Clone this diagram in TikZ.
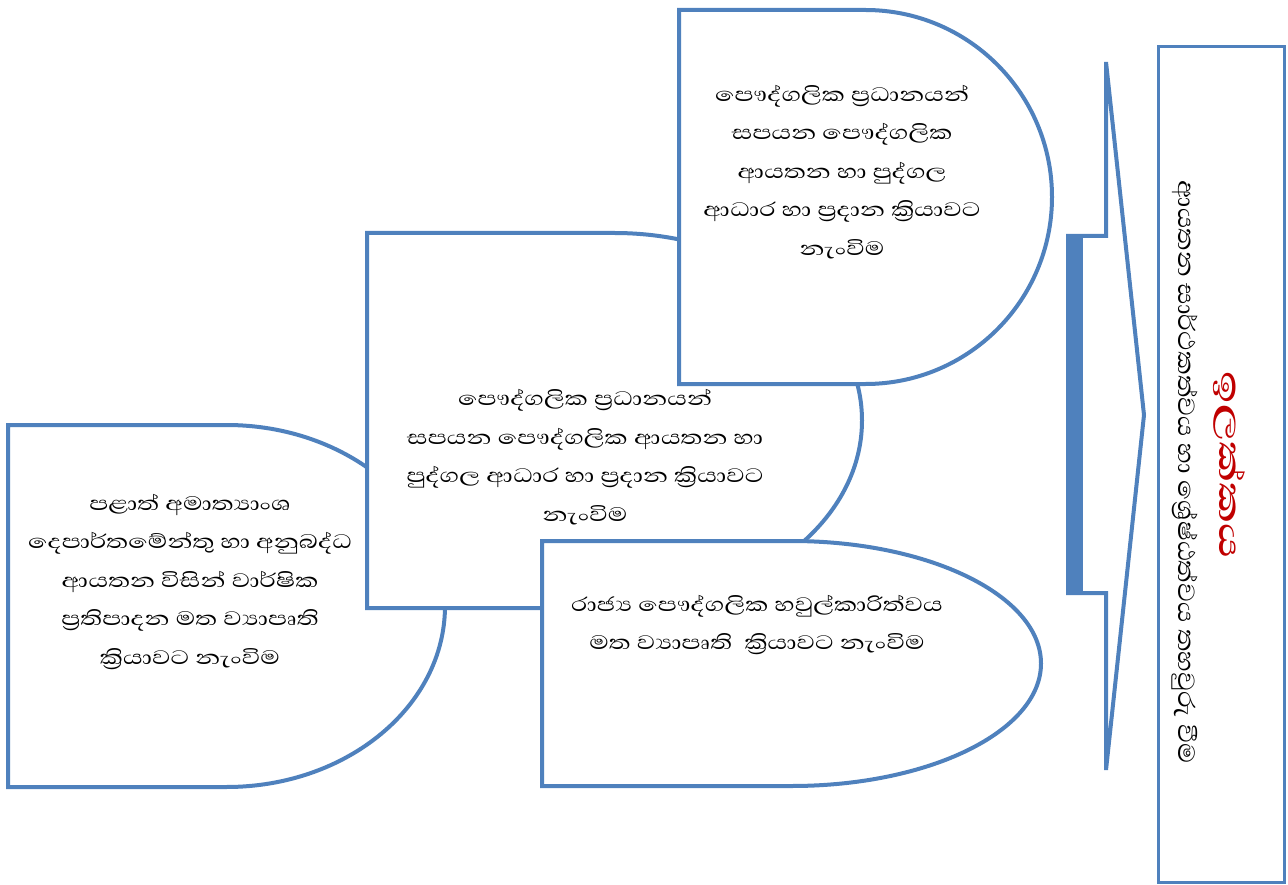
\documentclass[tikz,border=0pt]{standalone}
\usepackage{fontspec}
\usepackage{xcolor}
\usetikzlibrary{positioning}
\newfontfamily\sinfont[Script=Sinhala,FakeStretch=1.3]{Abhaya Libre}
\newfontfamily\sinvfont[Script=Sinhala,FakeStretch=1.12]{Abhaya Libre}
\newfontfamily\sinwfont[Script=Sinhala,FakeStretch=1.45]{Abhaya Libre}
\definecolor{shapeblue}{HTML}{4F81BD}
\definecolor{goalred}{HTML}{C00000}

% delay shape: left, top, width, height (pixels, y downwards)
\newcommand{\delaybox}[4]{%
  \draw[delay] (#1,-#2) -- ++(#3/2,0)
    arc[start angle=90,end angle=-90,x radius=#3/2,y radius=#4/2]
    -- ++(-#3/2,0) -- cycle;}

\begin{document}
\begin{tikzpicture}[x=1pt,y=1pt,
    delay/.style={draw=shapeblue, line width=4pt, fill=white},
    stext/.style={align=center, font=\sinfont\fontsize{25}{38.5}\selectfont},
    vtext/.style={rotate=-90, font=\sinvfont\fontsize{30}{34}\selectfont}]
  \useasboundingbox (0,0) rectangle (1288,-885);

  % the four stages
  \delaybox{8}{425}{437}{362}
  \delaybox{367}{233}{495}{375}
  \delaybox{679}{10}{373}{374}
  \delaybox{542}{541}{499}{245}

  \node[stext] (lefttxt) at (190,-582) {පළාත් අමාත්‍යාංශ\\දෙපාර්තමේන්තු හා අනුබද්ධ\\ආයතන විසින් වාර්ෂික\\ප්‍රතිපාදන මත ව්‍යාපෘති\\ක්‍රියාවට නැංවිම};
  \node[stext] (midtxt) at (585,-457) {පෞද්ගලික ප්‍රධානයන්\\සපයන පෞද්ගලික ආයතන හා\\පුද්ගල ආධාර හා ප්‍රදාන ක්‍රියාවට\\නැංවිම};
  \node[stext] (toptxt) at (842,-172) {පෞද්ගලික ප්‍රධානයන්\\සපයන පෞද්ගලික\\ආයතන හා පුද්ගල\\ආධාර හා ප්‍රදාන ක්‍රියාවට\\නැංවිම};
  \node[stext] (lowtxt) at (757,-625) {රාජ්‍ය පෞද්ගලික හවුල්කාරිත්වය\\මත ව්‍යාපෘති ~ක්‍රියාවට නැංවිම};

  % brace arrow
  \draw[shapeblue, line width=4pt, fill=white] (1106,-62) -- (1106,-236) -- (1068,-236)
    -- (1068,-593) -- (1106,-593) -- (1106,-770) -- (1144,-415) -- cycle;
  \fill[shapeblue] (1066,-236) rectangle (1083,-593);

  % goal box
  \draw[shapeblue, line width=3pt] (1158,-47) rectangle (1284,-882);
  \node[vtext] (goaltxt) at (1185,-472) {ආයතන සාර්ථකත්වය හා ශ්‍රේෂ්ඨත්වය තහවුරු වීම};
  \node[vtext, text=goalred, font=\sinwfont\bfseries\fontsize{40}{42}\selectfont] (goal) at (1229,-465) {ඉලක්^^^^200cකය};
\end{tikzpicture}
\end{document}
